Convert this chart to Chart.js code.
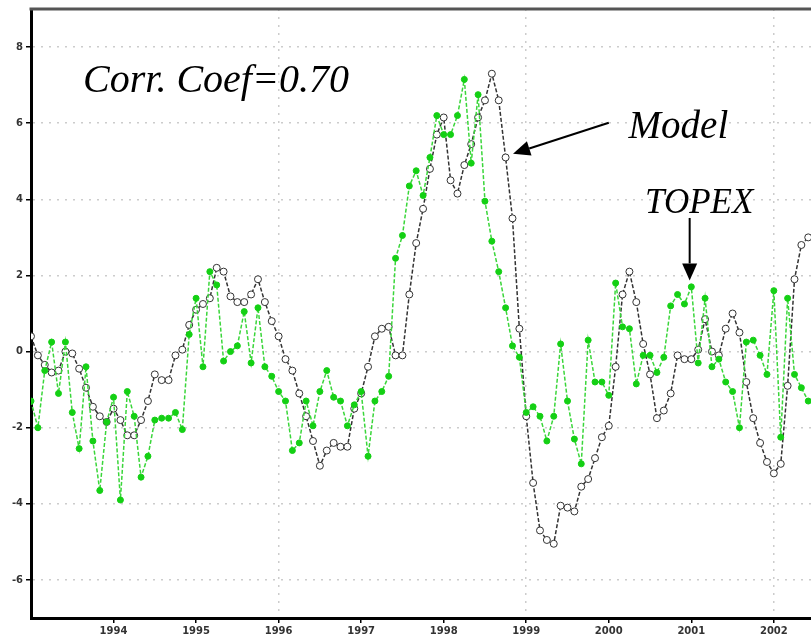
<!DOCTYPE html>
<html>
<head>
<meta charset="utf-8">
<script src="https://cdn.jsdelivr.net/npm/chart.js@4.4.1/dist/chart.umd.min.js"></script>
<style>
    html, body { margin: 0; padding: 0; background: #fff; overflow: hidden; }
    #wrap { position: absolute; left: 0; top: 0; width: 811px; height: 643px; overflow: hidden; }
</style>
</head>
<body>
<div id="wrap"><canvas id="chart" width="816" height="643"></canvas></div>
<script>
// Monthly series starting Jan 1993 (one value per month).
const START_YEAR = 1993;

// Model sea level anomaly (black, open circles)
const modelValues = [
    0.4, -0.1, -0.35, -0.55, -0.5, 0.0, -0.05, -0.45, -0.95, -1.45,
    -1.7, -1.85, -1.5, -1.8, -2.2, -2.2, -1.8, -1.3, -0.6, -0.75,
    -0.75, -0.1, 0.05, 0.7, 1.1, 1.25, 1.4, 2.2, 2.1, 1.45,
    1.3, 1.3, 1.5, 1.9, 1.3, 0.8, 0.4, -0.2, -0.5, -1.1,
    -1.7, -2.35, -3.0, -2.6, -2.4, -2.5, -2.5, -1.5, -1.1, -0.4,
    0.4, 0.6, 0.65, -0.1, -0.1, 1.5, 2.85, 3.75, 4.8, 5.7,
    6.15, 4.5, 4.15, 4.9, 5.45, 6.15, 6.6, 7.3, 6.6, 5.1,
    3.5, 0.6, -1.7, -3.45, -4.7, -4.95, -5.05, -4.05, -4.1, -4.2,
    -3.55, -3.35, -2.8, -2.25, -1.95, -0.4, 1.5, 2.1, 1.3, 0.2,
    -0.6, -1.75, -1.55, -1.1, -0.1, -0.2, -0.2, 0.05, 0.85, 0.0,
    -0.1, 0.6, 1.0, 0.5, -0.8, -1.75, -2.4, -2.9, -3.2, -2.95,
    -0.9, 1.9, 2.8, 3.0
];

// TOPEX altimetry (green, filled circles)
const topexValues = [
    -1.3, -2.0, -0.5, 0.25, -1.1, 0.25, -1.6, -2.55, -0.4, -2.35,
    -3.65, -1.85, -1.2, -3.9, -1.05, -1.7, -3.3, -2.75, -1.8, -1.75,
    -1.75, -1.6, -2.05, 0.45, 1.4, -0.4, 2.1, 1.75, -0.25, 0.0,
    0.15, 1.05, -0.3, 1.15, -0.4, -0.65, -1.05, -1.3, -2.6, -2.4,
    -1.3, -1.95, -1.05, -0.5, -1.2, -1.3, -1.95, -1.4, -1.05, -2.75,
    -1.3, -1.05, -0.65, 2.45, 3.05, 4.35, 4.75, 4.1, 5.1, 6.2,
    5.7, 5.7, 6.2, 7.15, 4.95, 6.75, 3.95, 2.9, 2.1, 1.15,
    0.15, -0.15, -1.6, -1.45, -1.7, -2.35, -1.7, 0.2, -1.3, -2.3,
    -2.95, 0.3, -0.8, -0.8, -1.15, 1.8, 0.65, 0.6, -0.85, -0.1,
    -0.1, -0.55, -0.15, 1.2, 1.5, 1.25, 1.7, -0.3, 1.4, -0.4,
    -0.2, -0.8, -1.05, -2.0, 0.25, 0.3, -0.1, -0.6, 1.6, -2.25,
    1.4, -0.6, -0.95, -1.3
];

const xTickValues = [1994, 1995, 1996, 1997, 1998, 1999, 2000, 2001, 2002];
const xTickLabels = ['1994', '1995', '1996', '1997', '1998', '1999', '2000', '2001', '2002'];
const xGridYears = [1996, 1999, 2002];
const yTickValues = [-6, -4, -2, 0, 2, 4, 6, 8];

// annotation anchors, in data units (year, value)
const corrLabel = { text: 'Corr. Coef=0.70', x: 1993.63, y: 6.82 };
const modelLabel = { text: 'Model', x: 2000.24, y: 5.62 };
const modelArrow = { from: [2000.0, 6.01], to: [1998.84, 5.2] };
const topexLabel = { text: 'TOPEX', x: 2000.44, y: 3.64 };
const topexArrow = { from: [2000.98, 3.51], to: [2000.98, 1.87] };

const toPoints = values => values.map((v, i) => ({ x: START_YEAR + i / 12, y: v }));

function drawArrow(ctx, x1, y1, x2, y2, headLen, headW) {
    const ang = Math.atan2(y2 - y1, x2 - x1);
    const bx = x2 - headLen * Math.cos(ang);
    const by = y2 - headLen * Math.sin(ang);
    ctx.beginPath();
    ctx.moveTo(x1, y1);
    ctx.lineTo(bx, by);
    ctx.stroke();
    ctx.beginPath();
    ctx.moveTo(x2, y2);
    ctx.lineTo(bx + headW / 2 * Math.sin(ang), by - headW / 2 * Math.cos(ang));
    ctx.lineTo(bx - headW / 2 * Math.sin(ang), by + headW / 2 * Math.cos(ang));
    ctx.closePath();
    ctx.fill();
}

const annotations = {
    id: 'annotations',
    afterDatasetsDraw(chart) {
        const { ctx, chartArea, scales: { x, y } } = chart;
        ctx.save();
        // top frame line
        ctx.strokeStyle = '#555';
        ctx.lineWidth = 3;
        ctx.beginPath();
        ctx.moveTo(chartArea.left - 1.5, chartArea.top);
        ctx.lineTo(chartArea.right + 5, chartArea.top);
        ctx.stroke();

        ctx.fillStyle = '#000';
        ctx.textBaseline = 'alphabetic';
        ctx.textAlign = 'left';
        ctx.font = 'italic 40px "Liberation Serif", "Times New Roman", serif';
        ctx.fillText(corrLabel.text, x.getPixelForValue(corrLabel.x), y.getPixelForValue(corrLabel.y));
        ctx.font = 'italic 39px "Liberation Serif", "Times New Roman", serif';
        ctx.fillText(modelLabel.text, x.getPixelForValue(modelLabel.x), y.getPixelForValue(modelLabel.y));
        ctx.font = 'italic 35px "Liberation Serif", "Times New Roman", serif';
        ctx.fillText(topexLabel.text, x.getPixelForValue(topexLabel.x), y.getPixelForValue(topexLabel.y));

        ctx.strokeStyle = '#000';
        ctx.lineWidth = 2;
        for (const a of [modelArrow, topexArrow]) {
            drawArrow(ctx,
                x.getPixelForValue(a.from[0]), y.getPixelForValue(a.from[1]),
                x.getPixelForValue(a.to[0]), y.getPixelForValue(a.to[1]), 17, 15);
        }
        ctx.restore();
    }
};

new Chart(document.getElementById('chart'), {
    type: 'line',
    data: {
        datasets: [
            {
                label: 'TOPEX',
                data: toPoints(topexValues),
                borderColor: '#3ad63a',
                backgroundColor: '#14d014',
                pointBackgroundColor: '#14d014',
                pointBorderColor: '#14d014',
                borderWidth: 1.5,
                borderDash: [4, 2],
                pointRadius: 3,
                pointBorderWidth: 1,
                tension: 0,
                order: 1
            },
            {
                label: 'Model',
                data: toPoints(modelValues),
                borderColor: '#333',
                backgroundColor: '#fff',
                pointBackgroundColor: '#fff',
                pointBorderColor: '#333',
                borderWidth: 1.5,
                borderDash: [4, 2],
                pointRadius: 3.5,
                pointBorderWidth: 1,
                tension: 0,
                order: 2
            }
        ]
    },
    options: {
        responsive: false,
        animation: false,
        devicePixelRatio: 1,
        layout: { padding: { top: 4, right: 0, left: 0, bottom: 0 } },
        plugins: { legend: { display: false }, tooltip: { enabled: false } },
        scales: {
            x: {
                type: 'linear',
                min: 1993.0,
                max: 2002.45,
                afterBuildTicks: scale => { scale.ticks = xTickValues.map(v => ({ value: v })); },
                afterFit: scale => { scale.height = 25; },
                ticks: {
                    autoSkip: false,
                    maxRotation: 0,
                    padding: 2,
                    color: '#333',
                    font: { family: 'DejaVu Sans', size: 10, weight: 'bold' },
                    callback: v => xTickLabels[xTickValues.indexOf(v)]
                },
                grid: {
                    color: c => (c.tick && xGridYears.includes(c.tick.value)) ? '#cccccc' : 'transparent',
                    lineWidth: 1.5,
                    drawTicks: true,
                    tickLength: 5,
                    tickColor: '#000',
                    tickWidth: 1.5
                },
                border: { display: true, color: '#000', width: 3, dash: [2, 6] }
            },
            y: {
                min: -7,
                max: 9,
                afterBuildTicks: scale => { scale.ticks = yTickValues.map(v => ({ value: v })); },
                afterFit: scale => { scale.width = 31; },
                ticks: {
                    padding: 3,
                    color: '#333',
                    font: { family: 'DejaVu Sans', size: 10, weight: 'bold' },
                    callback: v => String(v)
                },
                grid: {
                    color: '#cccccc',
                    lineWidth: 1.5,
                    drawTicks: true,
                    tickLength: 5,
                    tickColor: '#000',
                    tickWidth: 1.5
                },
                border: { display: true, color: '#000', width: 3, dash: [2, 6] }
            }
        }
    },
    plugins: [annotations]
});
</script>
</body>
</html>
